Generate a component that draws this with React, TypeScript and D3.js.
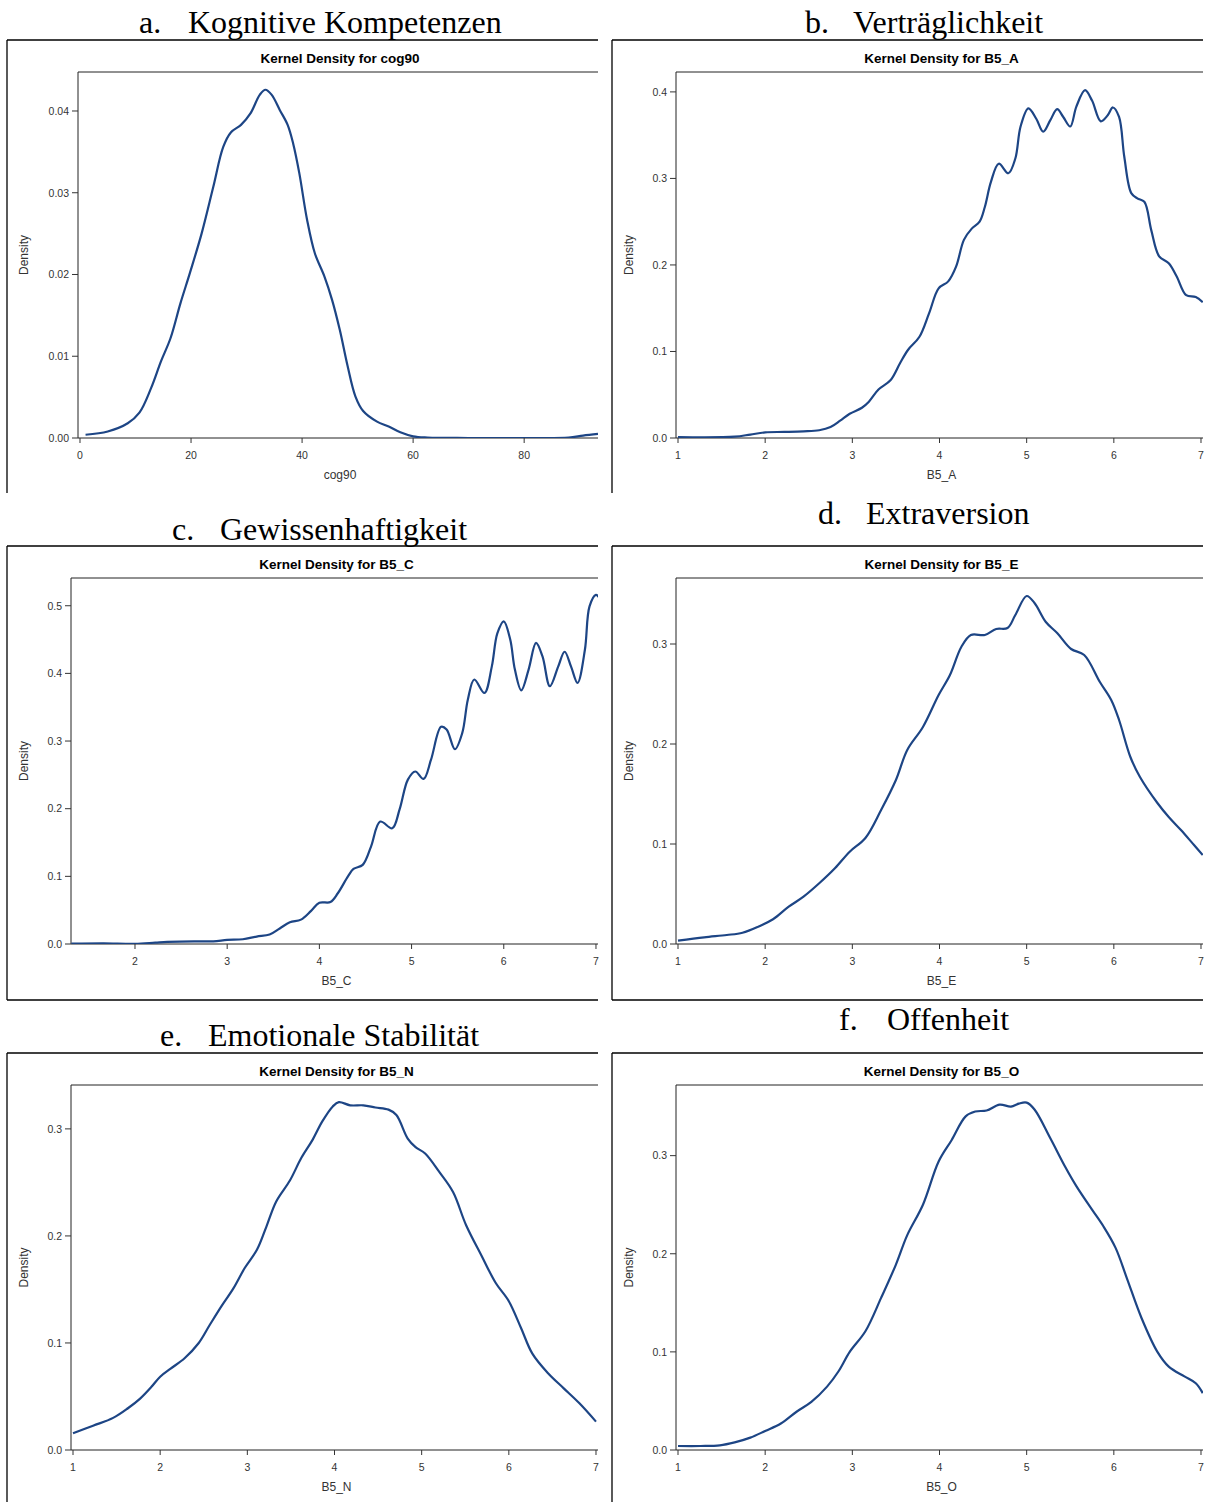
import * as d3 from 'd3';

// ---- data ----
const cog90X = [1, 5, 8.6, 10.7, 12.8, 14.6, 16.3, 18.1, 19.8, 21.9, 24.0, 25.8, 27.2, 29.0, 30.7, 32.4, 33.4, 34.5, 36.0, 37.4, 38.4, 39.5, 40.9, 42.3, 44.0, 45.4, 46.8, 48.2, 49.6, 51.0, 53.5, 55.6, 57.7, 60, 62.6, 70, 80, 88, 90.6, 93.3];
const cog90Density = [0.0004, 0.0008, 0.0018, 0.0031, 0.0061, 0.0094, 0.0122, 0.0165, 0.0202, 0.025, 0.0307, 0.0356, 0.0374, 0.0383, 0.0397, 0.042, 0.0426, 0.042, 0.0401, 0.0383, 0.036, 0.0324, 0.0267, 0.0226, 0.0198, 0.0169, 0.0132, 0.0088, 0.0051, 0.0033, 0.002, 0.0014, 0.0007, 0.0002, 0.00005, 0, 0, 0.00005, 0.0003, 0.0005];

const b5aX = [1.0, 1.65, 1.83, 2.0, 2.22, 2.44, 2.62, 2.75, 2.86, 2.97, 3.11, 3.19, 3.30, 3.44, 3.55, 3.64, 3.77, 3.88, 3.99, 4.10, 4.19, 4.28, 4.37, 4.46, 4.52, 4.59, 4.68, 4.79, 4.87, 4.93, 5.02, 5.11, 5.19, 5.27, 5.35, 5.42, 5.50, 5.57, 5.67, 5.75, 5.85, 5.93, 5.99, 6.06, 6.12, 6.20, 6.27, 6.35, 6.43, 6.52, 6.63, 6.72, 6.83, 6.94, 7.02];
const b5aDensity = [0.001, 0.0015, 0.004, 0.0065, 0.007, 0.0077, 0.009, 0.0127, 0.020, 0.028, 0.035, 0.042, 0.056, 0.067, 0.087, 0.102, 0.117, 0.144, 0.173, 0.181, 0.198, 0.229, 0.242, 0.25, 0.267, 0.296, 0.317, 0.306, 0.323, 0.36, 0.381, 0.369, 0.354, 0.367, 0.38, 0.371, 0.36, 0.383, 0.402, 0.39, 0.366, 0.373, 0.382, 0.371, 0.325, 0.283, 0.277, 0.273, 0.24, 0.21, 0.202, 0.187, 0.165, 0.163, 0.157];

const b5cX = [1.31, 1.66, 2.0, 2.22, 2.35, 2.64, 2.85, 3.0, 3.17, 3.32, 3.46, 3.57, 3.68, 3.80, 3.91, 4.0, 4.12, 4.20, 4.31, 4.37, 4.47, 4.56, 4.66, 4.79, 4.87, 4.96, 5.04, 5.13, 5.21, 5.32, 5.38, 5.47, 5.55, 5.61, 5.68, 5.79, 5.87, 5.93, 6.0, 6.07, 6.12, 6.19, 6.27, 6.35, 6.42, 6.50, 6.59, 6.66, 6.73, 6.80, 6.88, 6.93, 7.0, 7.03];
const b5cDensity = [0.0005, 0.001, 0.0003, 0.002, 0.003, 0.004, 0.004, 0.006, 0.007, 0.011, 0.014, 0.023, 0.032, 0.036, 0.049, 0.061, 0.062, 0.075, 0.10, 0.111, 0.117, 0.144, 0.181, 0.171, 0.199, 0.243, 0.255, 0.244, 0.272, 0.321, 0.317, 0.288, 0.312, 0.361, 0.391, 0.371, 0.41, 0.459, 0.477, 0.45, 0.406, 0.375, 0.406, 0.445, 0.425, 0.381, 0.41, 0.432, 0.41, 0.386, 0.435, 0.499, 0.516, 0.513];

const b5eX = [1.0, 1.30, 1.56, 1.74, 1.92, 2.09, 2.27, 2.44, 2.62, 2.80, 2.97, 3.15, 3.33, 3.50, 3.63, 3.81, 3.99, 4.12, 4.25, 4.36, 4.52, 4.65, 4.78, 4.87, 5.0, 5.09, 5.22, 5.35, 5.51, 5.66, 5.84, 5.97, 6.06, 6.19, 6.30, 6.50, 6.63, 6.77, 6.92, 7.02];
const b5eDensity = [0.0033, 0.0067, 0.009, 0.0113, 0.0173, 0.0247, 0.0373, 0.0473, 0.0607, 0.0757, 0.0923, 0.106, 0.134, 0.164, 0.194, 0.217, 0.249, 0.269, 0.297, 0.309, 0.309, 0.315, 0.316, 0.329, 0.348, 0.341, 0.322, 0.311, 0.295, 0.289, 0.262, 0.244, 0.224, 0.187, 0.167, 0.141, 0.127, 0.114, 0.099, 0.089];

const b5nX = [1.0, 1.23, 1.46, 1.63, 1.77, 1.90, 2.0, 2.12, 2.28, 2.44, 2.57, 2.70, 2.84, 2.97, 3.11, 3.22, 3.33, 3.49, 3.62, 3.75, 3.86, 3.98, 4.05, 4.18, 4.33, 4.47, 4.62, 4.71, 4.84, 4.93, 5.04, 5.20, 5.36, 5.51, 5.69, 5.85, 6.0, 6.14, 6.27, 6.45, 6.63, 6.81, 7.0];
const b5nDensity = [0.0156, 0.0227, 0.030, 0.039, 0.048, 0.059, 0.0685, 0.076, 0.0857, 0.0997, 0.117, 0.134, 0.151, 0.17, 0.187, 0.209, 0.232, 0.252, 0.273, 0.29, 0.307, 0.321, 0.325, 0.322, 0.322, 0.32, 0.318, 0.313, 0.291, 0.283, 0.277, 0.26, 0.241, 0.21, 0.181, 0.156, 0.139, 0.114, 0.090, 0.0717, 0.0576, 0.0436, 0.0265];

const b5oX = [1.0, 1.26, 1.48, 1.65, 1.83, 2.0, 2.18, 2.36, 2.53, 2.71, 2.84, 2.97, 3.15, 3.33, 3.50, 3.63, 3.81, 3.99, 4.14, 4.30, 4.41, 4.54, 4.69, 4.82, 4.91, 5.0, 5.09, 5.27, 5.44, 5.57, 5.75, 5.88, 6.02, 6.15, 6.32, 6.50, 6.63, 6.81, 6.94, 7.02];
const b5oDensity = [0.0041, 0.0041, 0.0048, 0.0078, 0.0126, 0.0194, 0.027, 0.039, 0.049, 0.0646, 0.080, 0.100, 0.121, 0.155, 0.189, 0.219, 0.25, 0.294, 0.316, 0.34, 0.345, 0.346, 0.352, 0.35, 0.353, 0.354, 0.347, 0.318, 0.289, 0.269, 0.245, 0.228, 0.206, 0.175, 0.134, 0.100, 0.085, 0.075, 0.068, 0.058];

// tick values
const cog90XTicks = [0, 20, 40, 60, 80];
const likertXTicks = [1, 2, 3, 4, 5, 6, 7];
const conscXTicks = [2, 3, 4, 5, 6, 7];
const cog90YTicks = [0, 0.01, 0.02, 0.03, 0.04];
const agreeYTicks = [0, 0.1, 0.2, 0.3, 0.4];
const conscYTicks = [0, 0.1, 0.2, 0.3, 0.4, 0.5];
const shortYTicks = [0, 0.1, 0.2, 0.3];

// titles
const panelLetters = ['a.', 'b.', 'c.', 'd.', 'e.', 'f.'];
const panelNames = ['Kognitive Kompetenzen', 'Verträglichkeit', 'Gewissenhaftigkeit', 'Extraversion', 'Emotionale Stabilität', 'Offenheit'];
const variableNames = ['cog90', 'B5_A', 'B5_C', 'B5_E', 'B5_N', 'B5_O'];

const seriesX = [cog90X, b5aX, b5cX, b5eX, b5nX, b5oX];
const seriesDensity = [cog90Density, b5aDensity, b5cDensity, b5eDensity, b5nDensity, b5oDensity];
const seriesXTicks = [cog90XTicks, likertXTicks, conscXTicks, likertXTicks, likertXTicks, likertXTicks];
const seriesYTicks = [cog90YTicks, agreeYTicks, conscYTicks, shortYTicks, shortYTicks, shortYTicks];

// layout (pixels) per panel
type Layout = {
  fx: number; fy: number; fr: number; fb: number | null; fEnd: number;
  l: number; t: number; r: number; b: number;
  xDom: [number, number]; yMax: number;
  letterX: number; nameX: number; titleY: number; yFmt: string;
};
const layouts: Layout[] = [
  { fx: 7, fy: 40, fr: 598, fb: null, fEnd: 493, l: 78, t: 72, r: 598, b: 438, xDom: [-0.36, 93.3], yMax: 0.04477, letterX: 139, nameX: 188, titleY: 33, yFmt: '.2f' },
  { fx: 612, fy: 40, fr: 1203, fb: null, fEnd: 493, l: 676, t: 72, r: 1203, b: 438, xDom: [0.977, 7.023], yMax: 0.423, letterX: 805, nameX: 853, titleY: 33, yFmt: '.1f' },
  { fx: 7, fy: 546, fr: 598, fb: 1000, fEnd: 1000, l: 71, t: 578, r: 598, b: 944, xDom: [1.306, 7.022], yMax: 0.541, letterX: 172, nameX: 220, titleY: 540, yFmt: '.1f' },
  { fx: 612, fy: 546, fr: 1203, fb: 1000, fEnd: 1000, l: 676, t: 578, r: 1203, b: 944, xDom: [0.977, 7.023], yMax: 0.366, letterX: 818, nameX: 866, titleY: 524, yFmt: '.1f' },
  { fx: 7, fy: 1053, fr: 598, fb: null, fEnd: 1502, l: 71, t: 1085, r: 598, b: 1450, xDom: [0.977, 7.023], yMax: 0.341, letterX: 160, nameX: 208, titleY: 1046, yFmt: '.1f' },
  { fx: 612, fy: 1053, fr: 1203, fb: null, fEnd: 1502, l: 676, t: 1085, r: 1203, b: 1450, xDom: [0.977, 7.023], yMax: 0.372, letterX: 839, nameX: 887, titleY: 1030, yFmt: '.1f' },
];

const SANS = '"Liberation Sans", Arial, sans-serif';
const SERIF = '"Liberation Serif", "Times New Roman", serif';
const LINE_COLOR = '#1d4585';

function Panel({ i }: { i: number }) {
  const L = layouts[i];
  const x = d3.scaleLinear().domain(L.xDom).range([L.l, L.r]);
  const y = d3.scaleLinear().domain([0, L.yMax]).range([L.b, L.t]);
  const pts: [number, number][] = seriesX[i].map((v, k) => [v, seriesDensity[i][k]]);
  const line = d3
    .line<[number, number]>()
    .x((d) => x(d[0]))
    .y((d) => y(d[1]))
    .curve(d3.curveCatmullRom.alpha(0.5));
  const fmt = d3.format(L.yFmt);
  const clipId = `clip-${i}`;
  const cx = (L.l + L.r) / 2;
  const cy = (L.t + L.b) / 2;

  return (
    <g>
      {/* panel title */}
      <text y={L.titleY} fontFamily={SERIF} fontSize={32} fill="#000">
        <tspan x={L.letterX}>{panelLetters[i]}</tspan>
        <tspan x={L.nameX}>{panelNames[i]}</tspan>
      </text>

      {/* outer frame */}
      <g stroke="#000" strokeWidth={1.3} fill="none">
        <line x1={L.fx} x2={L.fr} y1={L.fy} y2={L.fy} />
        <line x1={L.fx} x2={L.fx} y1={L.fy} y2={L.fEnd} />
        {L.fb !== null && <line x1={L.fx} x2={L.fr} y1={L.fb} y2={L.fb} />}
      </g>

      {/* plot title */}
      <text x={cx + 2} y={L.t - 9} textAnchor="middle" fontFamily={SANS} fontWeight="bold" fontSize={13.5} fill="#000">
        {`Kernel Density for ${variableNames[i]}`}
      </text>

      {/* plot box */}
      <g stroke="#222" strokeWidth={1} fill="none">
        <line x1={L.l} x2={L.r} y1={L.t} y2={L.t} />
        <line x1={L.l} x2={L.l} y1={L.t} y2={L.b} />
        <line x1={L.l} x2={L.r} y1={L.b} y2={L.b} />
      </g>

      {/* y axis */}
      {seriesYTicks[i].map((v) => (
        <g key={`y${v}`}>
          <line x1={L.l - 6} x2={L.l} y1={y(v)} y2={y(v)} stroke="#333" />
          <text x={L.l - 9} y={y(v) + 3.8} textAnchor="end" fontFamily={SANS} fontSize={10.5} fill="#333">
            {fmt(v)}
          </text>
        </g>
      ))}
      <text
        transform={`translate(${L.fx + 21},${cy}) rotate(-90)`}
        textAnchor="middle"
        fontFamily={SANS}
        fontSize={12}
        fill="#333"
      >
        Density
      </text>

      {/* x axis */}
      {seriesXTicks[i].map((v) => (
        <g key={`x${v}`}>
          <line x1={x(v)} x2={x(v)} y1={L.b} y2={L.b + 5} stroke="#333" />
          <text x={x(v)} y={L.b + 21} textAnchor="middle" fontFamily={SANS} fontSize={10.5} fill="#333">
            {v}
          </text>
        </g>
      ))}
      <text x={cx + 2} y={L.b + 41} textAnchor="middle" fontFamily={SANS} fontSize={12} fill="#333">
        {variableNames[i]}
      </text>

      {/* density curve */}
      <clipPath id={clipId}>
        <rect x={L.l} y={L.t - 4} width={L.r - L.l} height={L.b - L.t + 4} />
      </clipPath>
      <path d={line(pts) ?? ''} fill="none" stroke={LINE_COLOR} strokeWidth={2.2} clipPath={`url(#${clipId})`} />
    </g>
  );
}

export default function App() {
  return (
    <svg
      width={1207}
      height={1502}
      style={{ position: 'absolute', left: 0, top: 0, background: '#fff' }}
    >
      <rect width={1207} height={1502} fill="#fff" />
      {layouts.map((_, i) => (
        <Panel key={i} i={i} />
      ))}
    </svg>
  );
}
